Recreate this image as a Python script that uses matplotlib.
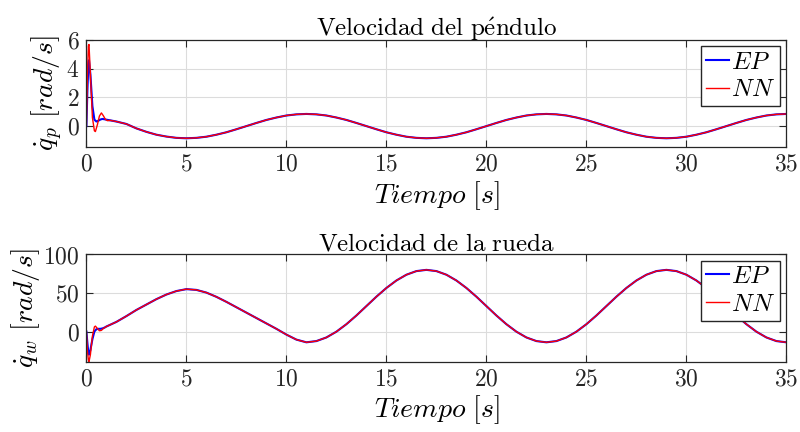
import numpy as np
import matplotlib
matplotlib.use("Agg")
import matplotlib.pyplot as plt

plt.rcParams['mathtext.fontset'] = 'cm'
plt.rcParams['font.family'] = 'serif'
plt.rcParams['font.serif'] = ['cmr10']
plt.rcParams['axes.formatter.use_mathtext'] = True
plt.rcParams['axes.unicode_minus'] = False

# arranque (0 - 1.5 s), distinto para cada modelo
t_ini_ep = [0.0, 0.05, 0.1, 0.13, 0.2, 0.3, 0.4, 0.5, 0.6, 0.7, 0.8, 0.9, 1.0, 1.2]
qp_ini_ep = [0.0, 2.5, 4.3, 4.6, 3.6, 1.4, 0.45, 0.32, 0.38, 0.46, 0.5, 0.48, 0.45, 0.4]
t_ini_nn = [0.0, 0.05, 0.1, 0.13, 0.2, 0.3, 0.4, 0.45, 0.55, 0.65, 0.75, 0.85, 0.95, 1.05, 1.2]
qp_ini_nn = [0.0, 3.5, 5.6, 5.7, 3.6, 0.6, -0.33, -0.38, 0.1, 0.7, 0.92, 0.72, 0.47, 0.38, 0.4]

tw_ini_ep = [0.0, 0.05, 0.1, 0.13, 0.2, 0.3, 0.4, 0.5, 0.6, 0.7, 0.8, 0.9]
qw_ini_ep = [0.0, -15, -28, -30, -24, -10, 0.0, 3.0, 3.5, 3.5, 4.0, 5.0]
tw_ini_nn = [0.0, 0.05, 0.1, 0.13, 0.2, 0.3, 0.4, 0.45, 0.55, 0.65, 0.75, 0.85]
qw_ini_nn = [0.0, -25, -37, -39, -30, -6, 6.0, 7.0, 4.0, 1.0, 1.5, 4.0]

# regimen (ambos modelos coinciden)
t_p = [1.5, 2.0, 2.5, 3.0, 3.5, 4.0, 4.5, 5.0, 5.5, 6.0, 6.5, 7.0, 7.5, 8.0, 8.5, 9.0,
       9.5, 10.0, 10.5, 11.0, 11.5, 12.0, 12.5, 13.0, 13.5, 14.0, 14.5, 15.0, 15.5,
       16.0, 16.5, 17.0, 17.5, 18.0, 18.5, 19.0, 19.5, 20.0, 20.5, 21.0, 21.5, 22.0,
       22.5, 23.0, 23.5, 24.0, 24.5, 25.0, 25.5, 26.0, 26.5, 27.0, 27.5, 28.0, 28.5,
       29.0, 29.5, 30.0, 30.5, 31.0, 31.5, 32.0, 32.5, 33.0, 33.5, 34.0, 34.5, 35.0]
qp = [0.32, 0.15, -0.16, -0.4, -0.6, -0.73, -0.82, -0.85, -0.82, -0.74, -0.6, -0.43,
      -0.22, 0.0, 0.22, 0.43, 0.6, 0.74, 0.82, 0.85, 0.82, 0.74, 0.6, 0.43, 0.22, 0.0,
      -0.22, -0.43, -0.6, -0.74, -0.82, -0.85, -0.82, -0.74, -0.6, -0.43, -0.22, 0.0,
      0.22, 0.43, 0.6, 0.74, 0.82, 0.85, 0.82, 0.74, 0.6, 0.43, 0.22, 0.0, -0.22, -0.43,
      -0.6, -0.74, -0.82, -0.85, -0.82, -0.74, -0.6, -0.43, -0.22, 0.0, 0.22, 0.43, 0.6,
      0.74, 0.82, 0.85]

t_w = [1.0, 1.5, 2.0, 2.5, 3.0, 3.5, 4.0, 4.5, 5.0, 5.5, 6.0, 6.5, 7.0, 7.5, 8.0, 8.5,
       9.0, 9.5, 10.0, 10.5, 11.0, 11.5, 12.0, 12.5, 13.0, 13.5, 14.0, 14.5, 15.0, 15.5,
       16.0, 16.5, 17.0, 17.5, 18.0, 18.5, 19.0, 19.5, 20.0, 20.5, 21.0, 21.5, 22.0,
       22.5, 23.0, 23.5, 24.0, 24.5, 25.0, 25.5, 26.0, 26.5, 27.0, 27.5, 28.0, 28.5,
       29.0, 29.5, 30.0, 30.5, 31.0, 31.5, 32.0, 32.5, 33.0, 33.5, 34.0, 34.5, 35.0]
qw = [6.5, 12.5, 20, 28, 35, 42, 48, 52.5, 55, 54, 50.5, 45, 38.5, 31.5, 24.5, 17.5,
      10.5, 3.5, -4, -10.5, -14, -12.4, -7.7, -0.2, 9.5, 20.8, 33, 45.2, 56.5, 66.2,
      73.7, 78.4, 80, 78.4, 73.7, 66.2, 56.5, 45.2, 33, 20.8, 9.5, -0.2, -7.7, -12.4,
      -14, -12.4, -7.7, -0.2, 9.5, 20.8, 33, 45.2, 56.5, 66.2, 73.7, 78.4, 80, 78.4,
      73.7, 66.2, 56.5, 45.2, 33, 20.8, 9.5, -0.2, -7.7, -12.4, -14]

t_ep = np.concatenate([t_ini_ep, t_p])
qp_ep = np.concatenate([qp_ini_ep, qp])
t_nn = np.concatenate([t_ini_nn, t_p])
qp_nn = np.concatenate([qp_ini_nn, qp])
tw_ep = np.concatenate([tw_ini_ep, t_w])
qw_ep = np.concatenate([qw_ini_ep, qw])
tw_nn = np.concatenate([tw_ini_nn, t_w])
qw_nn = np.concatenate([qw_ini_nn, qw])

fig = plt.figure(figsize=(8, 4.32), dpi=100)
ax1 = fig.add_axes([0.108, 0.66, 0.875, 0.247])
ax2 = fig.add_axes([0.108, 0.163, 0.875, 0.248])


def estilo(ax, ylim, yticks, ylabel, titulo):
    ax.set_xlim(0, 35)
    ax.set_ylim(*ylim)
    ax.set_xticks(range(0, 36, 5))
    ax.set_yticks(yticks)
    ax.grid(True, color='#dcdcdc', linewidth=0.8)
    ax.set_axisbelow(True)
    ax.tick_params(direction='in', top=True, right=True, labelsize=17,
                   length=5, width=0.8, colors='#262626', pad=5)
    for s in ax.spines.values():
        s.set_color('#262626')
        s.set_linewidth(0.9)
    ax.set_xlabel(r'$Tiempo\ [s]$', fontsize=20, labelpad=2)
    ax.set_ylabel(ylabel, fontsize=20, labelpad=1)
    ax.set_title(r'$\mathrm{' + titulo + '}$', fontsize=18, pad=3)
    ax.legend(loc='upper right', fontsize=18, handlelength=0.9, handletextpad=0.1,
              borderpad=0.2, labelspacing=0.2, borderaxespad=0.25,
              fancybox=False, framealpha=1, edgecolor='#262626')


ax1.plot(t_ep, qp_ep, color='#0000ff', lw=1.5, label=r'$EP$')
ax1.plot(t_nn, qp_nn, color='#ff0000', lw=1.0, label=r'$NN$')
estilo(ax1, (-1.45, 6), [0, 2, 4, 6], r'$\dot{q}_p\ [rad/s]$',
       r'Velocidad\ del\ p\acute{e}ndulo')

ax2.plot(tw_ep, qw_ep, color='#0000ff', lw=1.5, label=r'$EP$')
ax2.plot(tw_nn, qw_nn, color='#ff0000', lw=1.0, label=r'$NN$')
estilo(ax2, (-39, 100), [0, 50, 100], r'$\dot{q}_w\ [rad/s]$',
       r'Velocidad\ de\ la\ rueda')

fig.savefig('out.png', dpi=100)
